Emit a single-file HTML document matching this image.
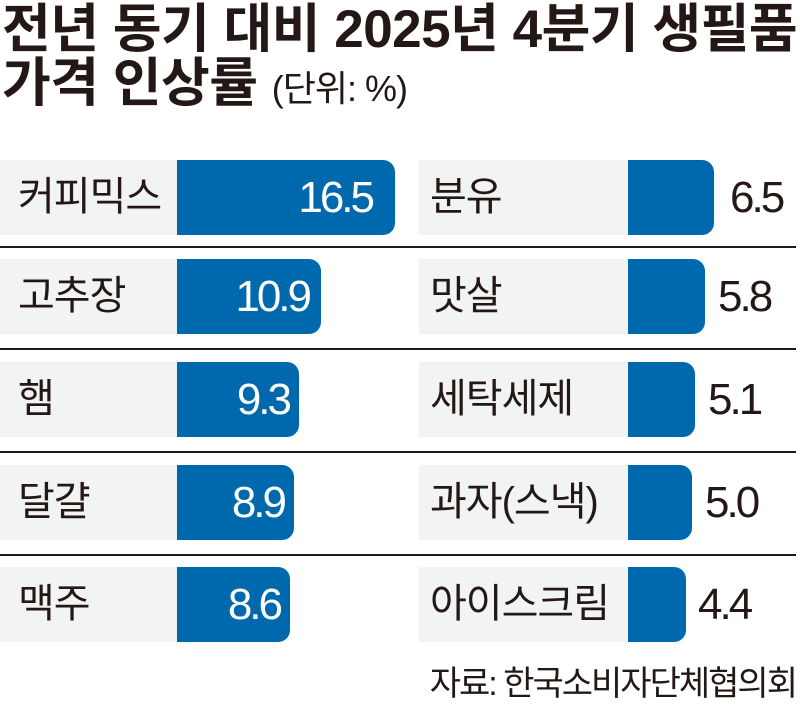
<!DOCTYPE html>
<html><head><meta charset="utf-8"><style>
body{margin:0;width:800px;height:710px;background:#fff;position:relative;overflow:hidden;font-family:"Liberation Sans","Noto Sans CJK KR",sans-serif;color:#231815}
.t{position:absolute;left:2px;font-weight:bold;font-size:53px;letter-spacing:-0.5px;line-height:54px;white-space:nowrap}
.g{position:absolute;height:75px;background:#f2f3f3}
.b{position:absolute;height:75px;background:#0068ad;border-radius:0 12px 12px 0}
.l{position:absolute;font-size:40px;line-height:75px;letter-spacing:-1px;white-space:nowrap}
.v{position:absolute;font-size:44px;line-height:75px;letter-spacing:-3px}
.s{position:absolute;left:0;width:796px;height:2px;background:#231815}
</style></head><body>
<div class="t" style="top:3px">전년 동기 대비 2025년 4분기 생필품</div>
<div class="t" style="top:57px">가격 인상률 <span style="font-weight:normal;font-size:36px;letter-spacing:-1px">(단위: %)</span></div>

<div class="s" style="top:246px"></div><div class="s" style="top:348px"></div><div class="s" style="top:451px"></div><div class="s" style="top:554px"></div>

<div class="g" style="left:0;width:178px;top:160px"></div><div class="b" style="left:177px;width:218px;top:160px"></div>
<div class="l" style="left:18px;top:160px">커피믹스</div><div class="v" style="left:177px;width:195px;text-align:right;color:#fff;top:160px">16.5</div>
<div class="g" style="left:0;width:178px;top:259px"></div><div class="b" style="left:177px;width:144px;top:259px"></div>
<div class="l" style="left:18px;top:259px">고추장</div><div class="v" style="left:177px;width:132px;text-align:right;color:#fff;top:259px">10.9</div>
<div class="g" style="left:0;width:178px;top:362px"></div><div class="b" style="left:177px;width:122px;top:362px"></div>
<div class="l" style="left:18px;top:362px">햄</div><div class="v" style="left:177px;width:112px;text-align:right;color:#fff;top:362px">9.3</div>
<div class="g" style="left:0;width:178px;top:465px"></div><div class="b" style="left:177px;width:117px;top:465px"></div>
<div class="l" style="left:18px;top:465px">달걀</div><div class="v" style="left:177px;width:107px;text-align:right;color:#fff;top:465px">8.9</div>
<div class="g" style="left:0;width:178px;top:567px"></div><div class="b" style="left:177px;width:113px;top:567px"></div>
<div class="l" style="left:18px;top:567px">맥주</div><div class="v" style="left:177px;width:103px;text-align:right;color:#fff;top:567px">8.6</div>

<div class="g" style="left:419px;width:210px;top:160px"></div><div class="b" style="left:628px;width:86px;top:160px"></div>
<div class="l" style="left:430px;top:160px">분유</div><div class="v" style="left:730px;top:160px">6.5</div>
<div class="g" style="left:419px;width:210px;top:259px"></div><div class="b" style="left:628px;width:77px;top:259px"></div>
<div class="l" style="left:430px;top:259px">맛살</div><div class="v" style="left:718px;top:259px">5.8</div>
<div class="g" style="left:419px;width:210px;top:362px"></div><div class="b" style="left:628px;width:67px;top:362px"></div>
<div class="l" style="left:430px;top:362px">세탁세제</div><div class="v" style="left:708px;top:362px">5.1</div>
<div class="g" style="left:419px;width:210px;top:465px"></div><div class="b" style="left:628px;width:64px;top:465px"></div>
<div class="l" style="left:430px;top:465px">과자(스낵)</div><div class="v" style="left:705px;top:465px">5.0</div>
<div class="g" style="left:419px;width:210px;top:567px"></div><div class="b" style="left:628px;width:58px;top:567px"></div>
<div class="l" style="left:430px;top:567px">아이스크림</div><div class="v" style="left:698px;top:567px">4.4</div>

<div style="position:absolute;right:4px;top:664px;font-size:34px;letter-spacing:-2px;line-height:40px;white-space:nowrap">자료: 한국소비자단체협의회</div>
</body></html>
